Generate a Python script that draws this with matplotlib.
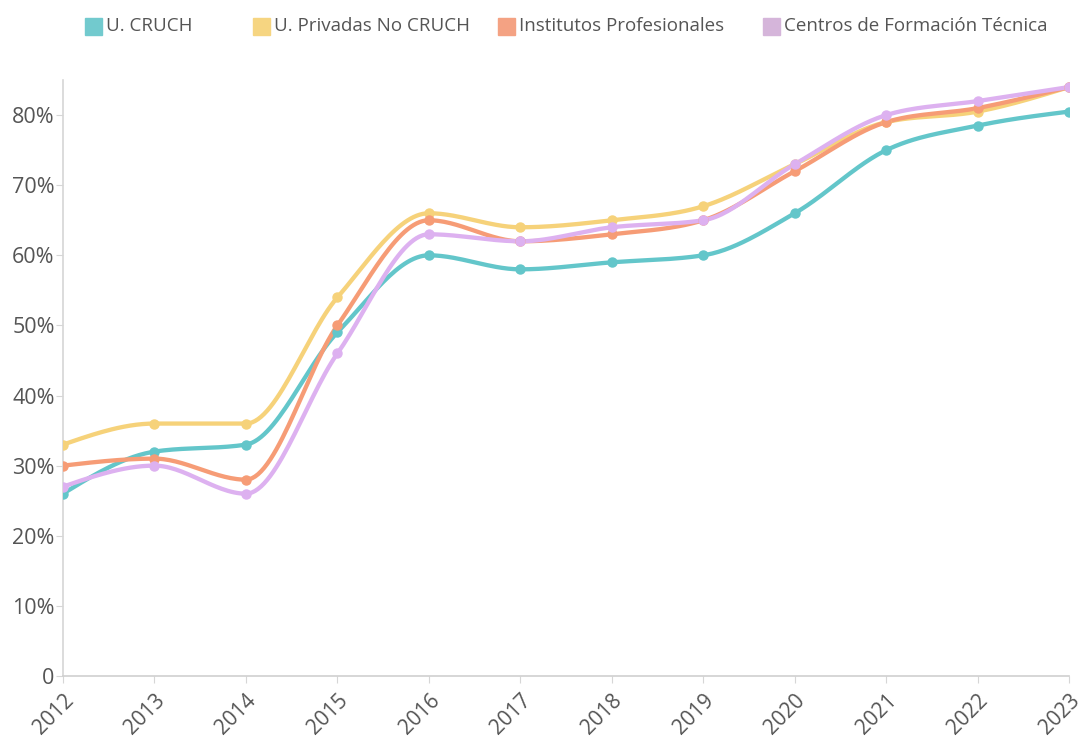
import numpy as np
import matplotlib
matplotlib.use("Agg")
import matplotlib.pyplot as plt
from matplotlib.ticker import FuncFormatter
from matplotlib.patches import Rectangle

plt.rcParams["font.family"] = ["Open Sans", "DejaVu Sans"]

# Datos (porcentaje)
years = [2012, 2013, 2014, 2015, 2016, 2017, 2018, 2019, 2020, 2021, 2022, 2023]
cruch = [26, 32, 33, 49, 60, 58, 59, 60, 66, 75, 78.5, 80.5]
privadas = [33, 36, 36, 54, 66, 64, 65, 67, 73, 79, 80.5, 84]
institutos = [30, 31, 28, 50, 65, 62, 63, 65, 72, 79, 81, 84]
cft = [27, 30, 26, 46, 63, 62, 64, 65, 73, 80, 82, 84]

names = ["U. CRUCH", "U. Privadas No CRUCH", "Institutos Profesionales",
         "Centros de Formación Técnica"]
colors = ["#63C6CA", "#F6D27A", "#F69C76", "#DDB1F0"]
legend_colors = ["#72CACE", "#F6D581", "#F4A283", "#D5B5DA"]
series = [cruch, privadas, institutos, cft]


def monotone_curve(x, y, n=30):
    # curva monótona tipo d3.curveMonotoneX
    x = np.asarray(x, float)
    y = np.asarray(y, float)
    h = np.diff(x)
    s = np.diff(y) / h
    t = np.zeros_like(y)
    for i in range(1, len(x) - 1):
        p = (s[i - 1] * h[i] + s[i] * h[i - 1]) / (h[i - 1] + h[i])
        t[i] = (np.sign(s[i - 1]) + np.sign(s[i])) * min(abs(s[i - 1]), abs(s[i]), 0.5 * abs(p))
    t[0] = (3 * s[0] - t[1]) / 2
    t[-1] = (3 * s[-1] - t[-2]) / 2
    xs, ys = [], []
    for i in range(len(x) - 1):
        u = np.linspace(0, 1, n, endpoint=(i == len(x) - 2))
        h00 = 2 * u**3 - 3 * u**2 + 1
        h10 = u**3 - 2 * u**2 + u
        h01 = -2 * u**3 + 3 * u**2
        h11 = u**3 - u**2
        xs.append(x[i] + u * h[i])
        ys.append(h00 * y[i] + h10 * h[i] * t[i] + h01 * y[i + 1] + h11 * h[i] * t[i + 1])
    return np.concatenate(xs), np.concatenate(ys)


fig = plt.figure(figsize=(10.86, 7.39), dpi=100)
ax = fig.add_axes([0.058, 0.0853, 0.9265, 0.8064])

for vals, c in zip(series, colors):
    cx, cy = monotone_curve(years, vals)
    ax.plot(cx, cy, color=c, lw=3.1, solid_capstyle="round", zorder=2)
    ax.plot(years, vals, "o", color=c, ms=6.5, zorder=3)

ax.set_xlim(2012, 2023)
ax.set_ylim(0, 85)
ax.set_xticks(years)
ax.set_yticks(range(0, 81, 10))
ax.yaxis.set_major_formatter(FuncFormatter(lambda v, p: "0" if v == 0 else f"{int(v)}%"))

for sp in ["top", "right"]:
    ax.spines[sp].set_visible(False)
ax.spines["left"].set_color("#d6d6d6")
ax.spines["bottom"].set_color("#cfcfcf")
ax.spines["left"].set_linewidth(1.2)
ax.spines["bottom"].set_linewidth(1.2)
ax.tick_params(axis="y", colors="#d6d6d6", labelcolor="#555555", labelsize=15.5, length=5, pad=1)
ax.tick_params(axis="x", colors="#d6d6d6", labelcolor="#555555", labelsize=15, length=5, pad=5)
plt.setp(ax.get_xticklabels(), rotation=45, ha="right", va="top", rotation_mode="anchor")

# Leyenda
leg_x = [85, 253, 498, 763]
for name, c, lx in zip(names, legend_colors, leg_x):
    fig.patches.append(Rectangle((lx / 1086, 1 - 35 / 739), 17 / 1086, 17 / 739,
                                 transform=fig.transFigure, color=c))
    fig.text((lx + 21) / 1086, 1 - 26 / 739, name, fontsize=13.5, color="#555555",
             va="center", ha="left")

fig.savefig("out.png", dpi=100)
